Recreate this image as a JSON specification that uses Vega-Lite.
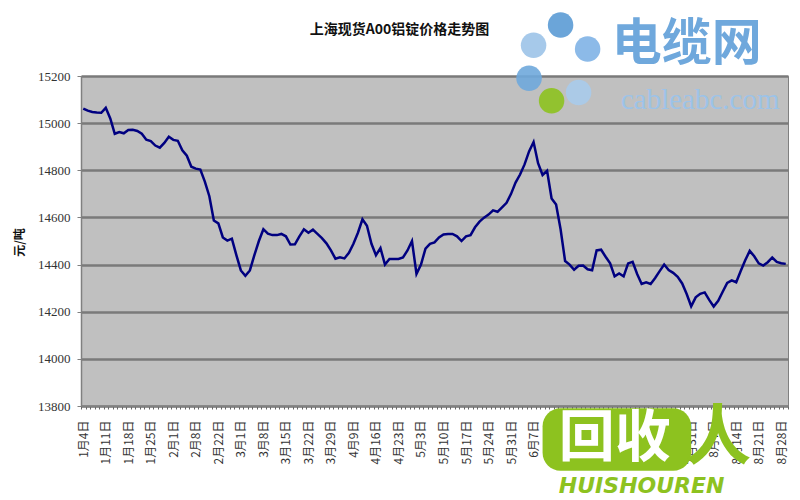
{
  "$schema": "https://vega.github.io/schema/vega-lite/v6.json",
  "width": 707,
  "height": 330,
  "autosize": {"type": "none"},
  "padding": {"left": 81, "top": 76, "right": 12, "bottom": 94},
  "background": "white",
  "title": {"text": "上海现货A00铝锭价格走势图", "font": "Noto Sans CJK SC", "fontSize": 14, "fontWeight": "bold", "color": "#111", "anchor": "middle", "frame": "group", "dx": -35, "offset": -25},
  "config": {"view": {"fill": "#C0C0C0", "stroke": "#808080", "strokeWidth": 1}},
  "layer": [
    {
      "data": {"values": [
        {"i":0,"p":15062},{"i":1,"p":15053},{"i":2,"p":15047},{"i":3,"p":15045},{"i":4,"p":15044},{"i":5,"p":15065},{"i":6,"p":15020},{"i":7,"p":14955},{"i":8,"p":14962},{"i":9,"p":14957},
        {"i":10,"p":14971},{"i":11,"p":14972},{"i":12,"p":14967},{"i":13,"p":14955},{"i":14,"p":14930},{"i":15,"p":14924},{"i":16,"p":14905},{"i":17,"p":14896},{"i":18,"p":14916},{"i":19,"p":14942},
        {"i":20,"p":14929},{"i":21,"p":14925},{"i":22,"p":14885},{"i":23,"p":14862},{"i":24,"p":14815},{"i":25,"p":14807},{"i":26,"p":14803},{"i":27,"p":14752},{"i":28,"p":14690},{"i":29,"p":14587},
        {"i":30,"p":14575},{"i":31,"p":14515},{"i":32,"p":14502},{"i":33,"p":14510},{"i":34,"p":14440},{"i":35,"p":14375},{"i":36,"p":14352},{"i":37,"p":14375},{"i":38,"p":14440},{"i":39,"p":14500},
        {"i":40,"p":14550},{"i":41,"p":14531},{"i":42,"p":14525},{"i":43,"p":14525},{"i":44,"p":14530},{"i":45,"p":14520},{"i":46,"p":14485},{"i":47,"p":14486},{"i":48,"p":14520},{"i":49,"p":14550},
        {"i":50,"p":14535},{"i":51,"p":14548},{"i":52,"p":14530},{"i":53,"p":14512},{"i":54,"p":14490},{"i":55,"p":14460},{"i":56,"p":14425},{"i":57,"p":14431},{"i":58,"p":14426},{"i":59,"p":14450},
        {"i":60,"p":14488},{"i":61,"p":14535},{"i":62,"p":14592},{"i":63,"p":14565},{"i":64,"p":14488},{"i":65,"p":14440},{"i":66,"p":14470},{"i":67,"p":14400},{"i":68,"p":14424},{"i":69,"p":14424},
        {"i":70,"p":14424},{"i":71,"p":14430},{"i":72,"p":14460},{"i":73,"p":14500},{"i":74,"p":14360},{"i":75,"p":14400},{"i":76,"p":14468},{"i":77,"p":14488},{"i":78,"p":14494},{"i":79,"p":14515},
        {"i":80,"p":14528},{"i":81,"p":14530},{"i":82,"p":14530},{"i":83,"p":14520},{"i":84,"p":14500},{"i":85,"p":14520},{"i":86,"p":14525},{"i":87,"p":14558},{"i":88,"p":14582},{"i":89,"p":14599},
        {"i":90,"p":14612},{"i":91,"p":14630},{"i":92,"p":14624},{"i":93,"p":14643},{"i":94,"p":14662},{"i":95,"p":14700},{"i":96,"p":14748},{"i":97,"p":14782},{"i":98,"p":14825},{"i":99,"p":14880},
        {"i":100,"p":14920},{"i":101,"p":14830},{"i":102,"p":14780},{"i":103,"p":14798},{"i":104,"p":14680},{"i":105,"p":14655},{"i":106,"p":14550},{"i":107,"p":14415},{"i":108,"p":14400},{"i":109,"p":14378},
        {"i":110,"p":14395},{"i":111,"p":14396},{"i":112,"p":14380},{"i":113,"p":14376},{"i":114,"p":14460},{"i":115,"p":14463},{"i":116,"p":14433},{"i":117,"p":14405},{"i":118,"p":14350},{"i":119,"p":14362},
        {"i":120,"p":14350},{"i":121,"p":14405},{"i":122,"p":14412},{"i":123,"p":14360},{"i":124,"p":14318},{"i":125,"p":14325},{"i":126,"p":14318},{"i":127,"p":14343},{"i":128,"p":14372},{"i":129,"p":14400},
        {"i":130,"p":14377},{"i":131,"p":14365},{"i":132,"p":14348},{"i":133,"p":14320},{"i":134,"p":14275},{"i":135,"p":14223},{"i":136,"p":14261},{"i":137,"p":14276},{"i":138,"p":14282},{"i":139,"p":14250},
        {"i":140,"p":14222},{"i":141,"p":14246},{"i":142,"p":14285},{"i":143,"p":14322},{"i":144,"p":14333},{"i":145,"p":14325},{"i":146,"p":14373},{"i":147,"p":14418},{"i":148,"p":14458},{"i":149,"p":14435},
        {"i":150,"p":14405},{"i":151,"p":14396},{"i":152,"p":14410},{"i":153,"p":14430},{"i":154,"p":14411},{"i":155,"p":14406},{"i":156,"p":14403}
      ]},
      "mark": {"type": "line", "color": "#000080", "strokeWidth": 2.5},
      "encoding": {
        "x": {"field": "i", "type": "ordinal",
          "scale": {"type": "band", "paddingInner": 0, "paddingOuter": 0},
          "axis": {"title": null, "tickBand": "extent",
            "labelExpr": "datum.value % 5 == 0 ? ['1月4日','1月11日','1月18日','1月25日','2月1日','2月8日','2月22日','3月1日','3月8日','3月15日','3月22日','3月29日','4月9日','4月16日','4月23日','5月3日','5月10日','5月17日','5月24日','5月31日','6月7日','6月19日','6月26日','7月3日','7月10日','7月17日','7月24日','7月31日','8月7日','8月14日','8月21日','8月28日'][round(datum.value/5)] : ''",
            "labelAngle": -90, "labelAlign": "right", "labelBaseline": "middle", "labelFont": "Noto Sans CJK SC", "labelFontSize": 12, "labelColor": "#333",
            "labelPadding": 11, "labelOverlap": false, "labelBound": false, "ticks": true, "tickSize": 3, "tickColor": "#666", "tickWidth": 1, "grid": false, "domainColor": "#808080", "domainWidth": 1.5}},
        "y": {"field": "p", "type": "quantitative",
          "scale": {"domain": [13800, 15200], "nice": false, "zero": false},
          "axis": {"title": "元/吨", "values": [13800,14000,14200,14400,14600,14800,15000,15200], "format": "d",
            "grid": true, "gridColor": "#7a7a7a", "gridWidth": 2.5, "domainColor": "#808080", "domainWidth": 1.5,
            "tickColor": "#808080", "tickSize": 4, "labelFont": "Liberation Serif", "labelFontSize": 13, "labelColor": "#333",
            "labelPadding": 7, "titleFont": "Noto Sans CJK SC", "titleFontSize": 12, "titleFontWeight": "bold", "titleColor": "#111",
            "titleX": -55, "titleY": 166, "titleAngle": -90}}
      }
    },
    {
      "data": {"values": [
        {"part": "蓝1", "i": 106, "p": 15416},
        {"part": "浅蓝", "i": 100, "p": 15330},
        {"part": "蓝2", "i": 112, "p": 15315},
        {"part": "浅蓝2", "i": 99, "p": 15190},
        {"part": "绿", "i": 104, "p": 15095},
        {"part": "蓝3", "i": 110, "p": 15130}
      ]},
      "mark": {"type": "point", "shape": "circle", "filled": true, "size": 650, "opacity": 0.9},
      "encoding": {
        "x": {"field": "i", "type": "ordinal"},
        "y": {"field": "p", "type": "quantitative"},
        "color": {"field": "part", "type": "nominal", "legend": null,
          "scale": {"domain": ["蓝1", "浅蓝", "蓝2", "浅蓝2", "绿", "蓝3"], "range": ["#5B9BD5", "#9CC3E8", "#7FB2E5", "#6FA8DC", "#8DC21F", "#A9CBEB"]}}
      }
    },
    {
      "data": {"values": [{"t": "电缆网"}]},
      "mark": {"type": "text", "font": "Noto Sans CJK SC", "fontSize": 50, "fontWeight": "bold", "color": "#6FA8DC", "align": "center", "baseline": "middle"},
      "encoding": {"text": {"field": "t"}, "x": {"datum": 134, "type": "ordinal"}, "y": {"datum": 15330, "type": "quantitative"}}
    },
    {
      "data": {"values": [{"t": "cableabc.com"}]},
      "mark": {"type": "text", "font": "Liberation Serif", "fontSize": 29, "color": "#9CC3E8", "align": "center", "baseline": "middle"},
      "encoding": {"text": {"field": "t"}, "x": {"datum": 137, "type": "ordinal"}, "y": {"datum": 15098, "type": "quantitative"}}
    },
    {
      "data": {"values": [{}]},
      "mark": {"type": "rect", "color": "#8DC21F", "cornerRadius": 18},
      "encoding": {"x": {"datum": 102, "type": "ordinal"}, "x2": {"datum": 135}, "y": {"datum": 13790, "type": "quantitative"}, "y2": {"datum": 13525}}
    },
    {
      "data": {"values": [{"t": "回收"}]},
      "mark": {"type": "text", "font": "Noto Sans CJK SC", "fontSize": 56, "fontWeight": "bold", "color": "white", "align": "center", "baseline": "middle"},
      "encoding": {"text": {"field": "t"}, "x": {"datum": 118, "type": "ordinal"}, "y": {"datum": 13660, "type": "quantitative"}}
    },
    {
      "data": {"values": [{"t": "人"}]},
      "mark": {"type": "text", "font": "Noto Sans CJK SC", "fontSize": 66, "fontWeight": "bold", "color": "#8DC21F", "align": "center", "baseline": "middle"},
      "encoding": {"text": {"field": "t"}, "x": {"datum": 141, "type": "ordinal"}, "y": {"datum": 13660, "type": "quantitative"}}
    },
    {
      "data": {"values": [{"t": "HUISHOUREN"}]},
      "mark": {"type": "text", "font": "DejaVu Sans", "fontSize": 22, "fontWeight": "bold", "fontStyle": "italic", "color": "#8DC21F", "align": "center", "baseline": "middle"},
      "encoding": {"text": {"field": "t"}, "x": {"datum": 124, "type": "ordinal"}, "y": {"datum": 13462, "type": "quantitative"}}
    }
  ]
}
